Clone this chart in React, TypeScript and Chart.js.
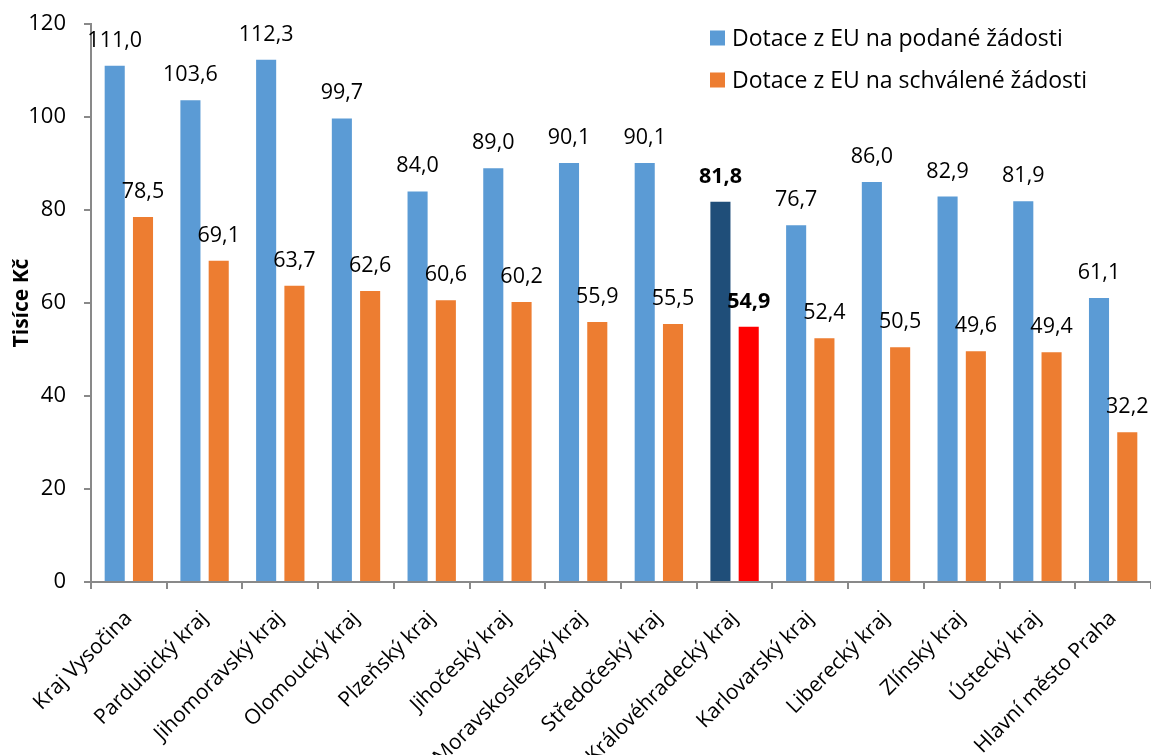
import React, { useEffect, useRef } from "react";
import { Chart, registerables } from "chart.js";

Chart.register(...registerables);

const categories = [
  "Kraj Vysočina",
  "Pardubický kraj",
  "Jihomoravský kraj",
  "Olomoucký kraj",
  "Plzeňský kraj",
  "Jihočeský kraj",
  "Moravskoslezský kraj",
  "Středočeský kraj",
  "Královéhradecký kraj",
  "Karlovarský kraj",
  "Liberecký kraj",
  "Zlínský kraj",
  "Ústecký kraj",
  "Hlavní město Praha",
];

const podane = [111.0, 103.6, 112.3, 99.7, 84.0, 89.0, 90.1, 90.1, 81.8, 76.7, 86.0, 82.9, 81.9, 61.1];
const schvalene = [78.5, 69.1, 63.7, 62.6, 60.6, 60.2, 55.9, 55.5, 54.9, 52.4, 50.5, 49.6, 49.4, 32.2];

const seriesNames = ["Dotace z EU na podané žádosti", "Dotace z EU na schválené žádosti"];
const highlightIndex = 8;
const yTicks = [0, 20, 40, 60, 80, 100, 120];

const BLUE = "#5B9BD5";
const ORANGE = "#ED7D31";
const DARK_BLUE = "#1F4E79";
const RED = "#FF0000";
const AXIS = "#898989";
const FONT = "'Open Sans', 'DejaVu Sans', sans-serif";

const fmt = (v: number) => v.toFixed(1).replace(".", ",");

const labelsPlugin = {
  id: "valueLabels",
  afterDatasetsDraw(chart: any) {
    const ctx = chart.ctx;
    ctx.save();
    ctx.fillStyle = "#000";
    ctx.textAlign = "center";
    ctx.textBaseline = "alphabetic";
    chart.data.datasets.forEach((ds: any, di: number) => {
      const meta = chart.getDatasetMeta(di);
      meta.data.forEach((bar: any, i: number) => {
        const bold = i === highlightIndex;
        ctx.font = `${bold ? "bold " : ""}21.5px ${FONT}`;
        ctx.fillText(fmt(ds.data[i]), bar.x, bar.y - 19);
      });
    });
    ctx.restore();
  },
};

const legendPlugin = {
  id: "insideLegend",
  afterDraw(chart: any) {
    const ctx = chart.ctx;
    ctx.save();
    ctx.font = `23px ${FONT}`;
    ctx.textBaseline = "middle";
    ctx.textAlign = "left";
    const rows = [38, 80];
    chart.data.datasets.forEach((ds: any, di: number) => {
      const y = rows[di];
      ctx.fillStyle = ds.legendColor;
      ctx.fillRect(710, y - 7.5, 15, 15);
      ctx.fillStyle = "#000";
      ctx.fillText(ds.label, 732, y + 1);
    });
    ctx.restore();
  },
};

export default function App() {
  const ref = useRef<HTMLCanvasElement | null>(null);

  useEffect(() => {
    if (!ref.current) return;
    const chart = new Chart(ref.current, {
      type: "bar",
      data: {
        labels: categories,
        datasets: [
          {
            label: seriesNames[0],
            data: podane,
            backgroundColor: podane.map((_, i) => (i === highlightIndex ? DARK_BLUE : BLUE)),
            legendColor: BLUE,
            categoryPercentage: 0.747,
            barPercentage: 0.71,
          } as any,
          {
            label: seriesNames[1],
            data: schvalene,
            backgroundColor: schvalene.map((_, i) => (i === highlightIndex ? RED : ORANGE)),
            legendColor: ORANGE,
            categoryPercentage: 0.747,
            barPercentage: 0.71,
          } as any,
        ],
      },
      options: {
        responsive: false,
        animation: false,
        layout: { padding: { top: 24, right: 0, left: 0, bottom: 0 } },
        plugins: {
          legend: { display: false },
          tooltip: { enabled: false },
        },
        scales: {
          x: {
            grid: {
              display: true,
              drawOnChartArea: false,
              drawTicks: true,
              tickLength: 7,
              color: AXIS,
              lineWidth: 2,
              offset: true,
            },
            border: { color: AXIS, width: 2 },
            ticks: {
              minRotation: 45,
              maxRotation: 45,
              autoSkip: false,
              color: "#000",
              font: { family: FONT, size: 21 },
              padding: 17,
            },
            afterFit: (scale: any) => {
              scale.height = 173;
              scale.paddingLeft = 0;
              scale.paddingRight = 0;
            },
          },
          y: {
            min: 0,
            max: 120,
            afterBuildTicks: (scale: any) => {
              scale.ticks = yTicks.map((v) => ({ value: v }));
            },
            grid: {
              display: true,
              drawOnChartArea: false,
              drawTicks: true,
              tickLength: 7,
              color: AXIS,
              lineWidth: 2,
            },
            border: { color: AXIS, width: 2 },
            ticks: {
              color: "#000",
              font: { family: FONT, size: 22 },
              padding: 18,
            },
            title: {
              display: true,
              text: "Tisíce Kč",
              color: "#000",
              font: { family: FONT, size: 21, weight: "bold" },
              padding: { top: 9, bottom: 0 },
            },
            afterFit: (scale: any) => {
              scale.width = 91;
              scale.paddingTop = 0;
              scale.paddingBottom = 0;
            },
          },
        },
      },
      plugins: [labelsPlugin, legendPlugin],
    });
    return () => chart.destroy();
  }, []);

  return (
    <div style={{ position: "absolute", left: 0, top: 0, width: 1151, height: 755, background: "#fff" }}>
      <canvas ref={ref} width={1151} height={755} style={{ display: "block" }} />
    </div>
  );
}
